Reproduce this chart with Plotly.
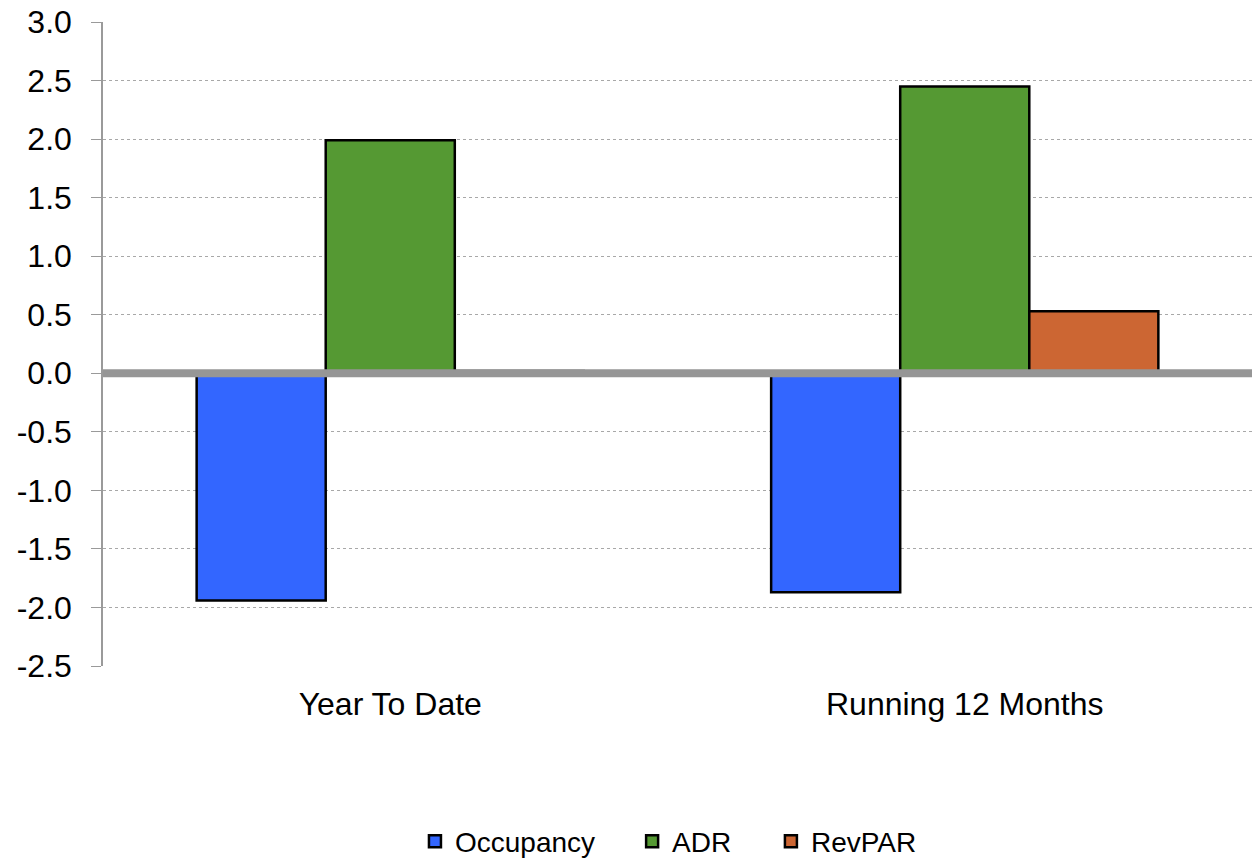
import plotly.graph_objects as go

categories = ["Year To Date", "Running 12 Months"]
occupancy = [-1.94, -1.87]
adr = [1.99, 2.45]
revpar = [0.02, 0.53]

tick_vals = [3.0, 2.5, 2.0, 1.5, 1.0, 0.5, 0.0, -0.5, -1.0, -1.5, -2.0, -2.5]
tick_text = [f"{v:.1f}" for v in tick_vals]

font_family = "Liberation Sans, Arial, sans-serif"
outline = dict(color="#000000", width=2.5)

fig = go.Figure()
fig.add_trace(go.Bar(name="Occupancy", x=categories, y=occupancy, legend="legend",
                     marker=dict(color="#3366FF", line=outline)))
fig.add_trace(go.Bar(name="ADR", x=categories, y=adr, legend="legend2",
                     marker=dict(color="#559933", line=outline)))
fig.add_trace(go.Bar(name="RevPAR", x=categories, y=revpar, legend="legend3",
                     marker=dict(color="#CC6633", line=outline)))

# heavy baseline at zero drawn over the bars
fig.add_shape(type="line", xref="paper", yref="y", x0=0, x1=1, y0=0, y1=0,
              line=dict(color="#969696", width=8), layer="above")

legend_common = dict(orientation="h", xanchor="left", yref="container", y=0.026,
                     yanchor="middle", font=dict(size=28), itemwidth=30,
                     bgcolor="rgba(0,0,0,0)")

fig.update_layout(
    width=1252, height=864,
    margin=dict(l=103, r=0, t=22, b=198, autoexpand=False),
    paper_bgcolor="white", plot_bgcolor="white",
    barmode="group", bargap=0.326, bargroupgap=0,
    font=dict(family=font_family, size=32, color="#000000"),
    showlegend=True,
    legend=dict(x=0.2715, **legend_common),
    legend2=dict(x=0.4605, **legend_common),
    legend3=dict(x=0.5813, **legend_common),
    xaxis=dict(showline=False, ticks="", showgrid=False,
               tickfont=dict(size=32), ticklabelstandoff=16),
    yaxis=dict(range=[-2.5, 3.0], tickvals=tick_vals, ticktext=tick_text,
               showline=True, linecolor="#9a9a9a", linewidth=1.5,
               ticks="outside", ticklen=10, tickcolor="#9a9a9a", tickwidth=1,
               showgrid=True, gridcolor="#a8a8a8", griddash="dot", gridwidth=1,
               zeroline=False, tickfont=dict(size=32), ticklabelstandoff=13),
)

fig.write_html("out.html")
